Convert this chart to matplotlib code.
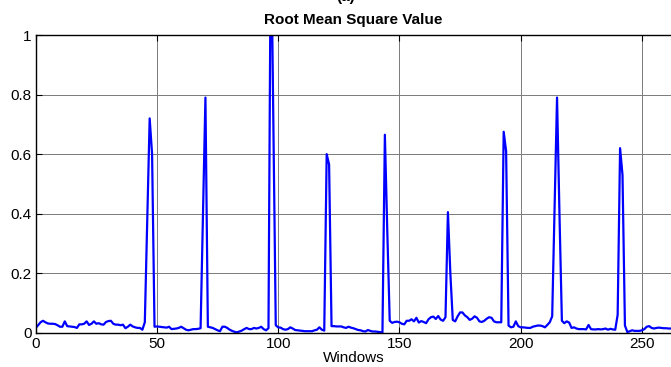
import numpy as np
import matplotlib
matplotlib.use('Agg')
import matplotlib.pyplot as plt

plt.rcParams['font.family'] = ['Liberation Sans', 'DejaVu Sans']

# RMS value per analysis window
rms = [
    0.016, 0.025, 0.035, 0.040, 0.035, 0.031, 0.030, 0.030, 0.029, 0.025,   # 0-9
    0.020, 0.020, 0.038, 0.022, 0.021, 0.020, 0.019, 0.016, 0.028, 0.028,   # 10-19
    0.030, 0.038, 0.026, 0.030, 0.038, 0.030, 0.032, 0.028, 0.027, 0.036,   # 20-29
    0.039, 0.040, 0.030, 0.027, 0.027, 0.025, 0.027, 0.015, 0.020, 0.027,   # 30-39
    0.021, 0.018, 0.016, 0.016, 0.010, 0.035, 0.380, 0.720, 0.600, 0.020,   # 40-49
    0.021, 0.020, 0.019, 0.018, 0.017, 0.020, 0.012, 0.013, 0.014, 0.016,   # 50-59
    0.020, 0.015, 0.010, 0.008, 0.010, 0.012, 0.012, 0.013, 0.015, 0.400,   # 60-69
    0.790, 0.020, 0.018, 0.016, 0.012, 0.008, 0.005, 0.020, 0.020, 0.016,   # 70-79
    0.010, 0.006, 0.003, 0.001, 0.004, 0.007, 0.012, 0.016, 0.012, 0.012,   # 80-89
    0.016, 0.014, 0.016, 0.020, 0.012, 0.008, 0.015, 1.400, 0.710, 0.025,   # 90-99
    0.018, 0.017, 0.012, 0.010, 0.012, 0.018, 0.014, 0.009, 0.008, 0.007,   # 100-109
    0.006, 0.005, 0.005, 0.005, 0.005, 0.008, 0.010, 0.018, 0.010, 0.007,   # 110-119
    0.600, 0.565, 0.022, 0.022, 0.021, 0.021, 0.021, 0.018, 0.016, 0.020,   # 120-129
    0.017, 0.015, 0.012, 0.009, 0.008, 0.005, 0.004, 0.009, 0.006, 0.004,   # 130-139
    0.004, 0.003, 0.002, 0.000, 0.665, 0.340, 0.040, 0.033, 0.036, 0.037,   # 140-149
    0.035, 0.030, 0.028, 0.040, 0.040, 0.045, 0.038, 0.050, 0.034, 0.039,   # 150-159
    0.036, 0.032, 0.045, 0.052, 0.054, 0.046, 0.056, 0.044, 0.040, 0.052,   # 160-169
    0.405, 0.200, 0.043, 0.038, 0.055, 0.068, 0.068, 0.058, 0.052, 0.043,   # 170-179
    0.047, 0.055, 0.050, 0.038, 0.036, 0.040, 0.047, 0.052, 0.050, 0.038,   # 180-189
    0.035, 0.035, 0.035, 0.675, 0.610, 0.024, 0.018, 0.020, 0.038, 0.022,   # 190-199
    0.018, 0.018, 0.017, 0.016, 0.016, 0.020, 0.022, 0.024, 0.024, 0.022,   # 200-209
    0.018, 0.026, 0.035, 0.055, 0.420, 0.790, 0.400, 0.040, 0.032, 0.038,   # 210-219
    0.034, 0.016, 0.018, 0.014, 0.012, 0.012, 0.012, 0.011, 0.026, 0.012,   # 220-229
    0.011, 0.011, 0.012, 0.011, 0.012, 0.014, 0.010, 0.013, 0.011, 0.010,   # 230-239
    0.060, 0.620, 0.530, 0.024, 0.002, 0.005, 0.008, 0.006, 0.006, 0.006,   # 240-249
    0.008, 0.012, 0.020, 0.022, 0.016, 0.014, 0.016, 0.017, 0.016, 0.015,   # 250-259
    0.015, 0.014, 0.014,                                                    # 260-262
]
windows = np.arange(len(rms))

x_ticks = [0, 50, 100, 150, 200, 250]
y_ticks = [0, 0.2, 0.4, 0.6, 0.8, 1]
y_labels = ['0', '0.2', '0.4', '0.6', '0.8', '1']

fig = plt.figure(figsize=(6.71, 3.67), dpi=100)
ax = fig.add_axes([0.0532, 0.0935, 0.9468, 0.811])

ax.plot(windows, rms, color='#0000ff', linewidth=1.6)

ax.set_xlim(0, 262)
ax.set_ylim(0, 1)
ax.set_xticks(x_ticks)
ax.set_yticks(y_ticks)
ax.set_yticklabels(y_labels)
ax.grid(True, color='#7a7a7a', linewidth=0.7, linestyle='-')
ax.set_axisbelow(True)

ax.spines['right'].set_visible(False)
for side in ['left', 'top', 'bottom']:
    ax.spines[side].set_linewidth(1.0)
ax.tick_params(direction='in', top=True, right=False, length=4,
               labelsize=11, pad=3)

ax.set_xlabel('Windows', fontsize=11, labelpad=0)
ax.set_title('Root Mean Square Value', fontsize=11, fontweight='bold', pad=8)
fig.text(0.515, 1 - 1.5 / 367, '(a)', fontsize=11, fontweight='bold',
         ha='center', va='baseline')

fig.savefig('out.png', dpi=100)
